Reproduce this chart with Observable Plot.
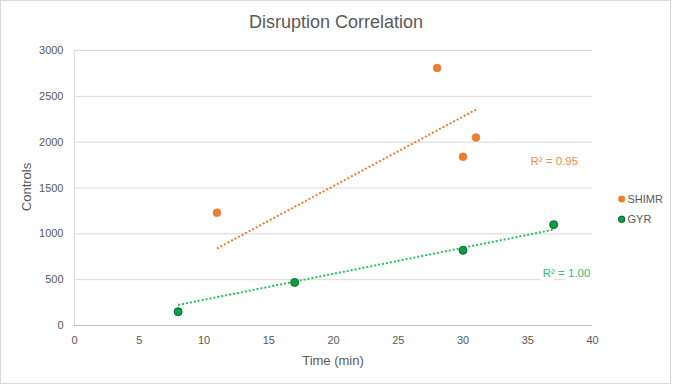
<!DOCTYPE html>
<html><head><meta charset="utf-8">
<script src="https://cdn.jsdelivr.net/npm/d3@7"></script>
<script src="https://cdn.jsdelivr.net/npm/@observablehq/plot@0.6"></script>
<style>
body{margin:0;background:#fff;font-family:"Liberation Sans",Arial,sans-serif;}
#wrap{position:relative;width:673px;height:385px;overflow:hidden;background:#fff;}
#frame{position:absolute;left:0;top:0;width:671px;height:384px;border:1px solid #d9d9d9;box-sizing:border-box;pointer-events:none;}
#chart,#overlay{position:absolute;left:0;top:0;}
</style>
</head><body>
<div id="wrap"><div id="chart"></div><svg id="overlay" width="673" height="385"></svg><div id="frame"></div></div>
<script>
// ---- data ----
const title = "Disruption Correlation";
const xLabel = "Time (min)";
const yLabel = "Controls";
const seriesNames = ["SHIMR", "GYR"];
const seriesColors = ["#ed7d31", "#0a9e45"];
const shimrTime = [11, 28, 30, 31];
const shimrControls = [1230, 2810, 1840, 2050];
const gyrTime = [8, 17, 30, 37];
const gyrControls = [150, 470, 820, 1100];
const trendShimrTime = [11, 31];
const trendShimrControls = [840, 2355];
const trendGyrTime = [8, 37];
const trendGyrControls = [224, 1046];
const r2Text = ["R² = 0.95", "R² = 1.00"];
const r2Time = [37.05, 38.0];
const r2Controls = [1793, 573];
const xTicks = [0, 5, 10, 15, 20, 25, 30, 35, 40];
const yTicks = [0, 500, 1000, 1500, 2000, 2500, 3000];

const shimr = shimrTime.map((t, i) => ({t, c: shimrControls[i]}));
const gyr = gyrTime.map((t, i) => ({t, c: gyrControls[i]}));
const trendShimr = trendShimrTime.map((t, i) => ({t, c: trendShimrControls[i]}));
const trendGyr = trendGyrTime.map((t, i) => ({t, c: trendGyrControls[i]}));
const r2 = r2Text.map((s, i) => ({s, t: r2Time[i], c: r2Controls[i], col: i === 0 ? "#f08c50" : "#33bf68"}));

const plot = Plot.plot({
  width: 673, height: 385,
  marginTop: 50, marginLeft: 74, marginRight: 81, marginBottom: 60,
  style: {fontFamily: '"Liberation Sans", Arial, sans-serif', fontSize: "11px", color: "#595959", background: "transparent"},
  x: {domain: [0, 40], ticks: xTicks, label: null},
  y: {domain: [0, 3000], ticks: yTicks, label: null},
  marks: [
    Plot.gridY(yTicks, {stroke: "#d9d9d9", strokeOpacity: 1}),
    Plot.ruleX([0], {stroke: "#d9d9d9"}),
    Plot.ruleY([0], {stroke: "#bfbfbf"}),
    Plot.axisX(xTicks, {tickSize: 0, tickPadding: 11, fill: "#595959", fontSize: 11, tickFormat: d3.format("d")}),
    Plot.axisY(yTicks, {tickSize: 0, tickPadding: 11, fill: "#595959", fontSize: 11, tickFormat: d3.format("d")}),
    Plot.text(r2, {x: "t", y: "c", text: "s", fill: "col", stroke: "white", strokeWidth: 8, fontSize: 11.5}),
    Plot.line(trendShimr, {x: "t", y: "c", stroke: "#ed7d31", strokeWidth: 2, strokeDasharray: "2 2", strokeLinecap: "butt"}),
    Plot.line(trendGyr, {x: "t", y: "c", stroke: "#22c35e", strokeWidth: 2, strokeDasharray: "2 2", strokeLinecap: "butt"}),
    Plot.dot(shimr, {x: "t", y: "c", r: 4, fill: "#ed7d31", stroke: "#ed7d31", strokeWidth: 0.5}),
    Plot.dot(gyr, {x: "t", y: "c", r: 4, fill: "#0a9e45", stroke: "#0b6b30", strokeWidth: 1})
  ]
});
document.getElementById("chart").appendChild(plot);

const ov = d3.select("#overlay").style("font-family", '"Liberation Sans", Arial, sans-serif');
ov.append("text").attr("x", 336).attr("y", 28).attr("text-anchor", "middle")
  .attr("font-size", 18).attr("fill", "#595959").text(title);
ov.append("text").attr("x", 333).attr("y", 365).attr("text-anchor", "middle")
  .attr("font-size", 13).attr("fill", "#595959").text(xLabel);
ov.append("text").attr("transform", "translate(31,187) rotate(-90)").attr("text-anchor", "middle")
  .attr("font-size", 13).attr("fill", "#595959").text(yLabel);
seriesNames.forEach((name, i) => {
  const y = 199 + i * 20.3;
  ov.append("circle").attr("cx", 621.7).attr("cy", y).attr("r", 3.3)
    .attr("fill", seriesColors[i]).attr("stroke", i === 0 ? seriesColors[i] : "#0b6b30").attr("stroke-width", i === 0 ? 0.5 : 1);
  ov.append("text").attr("x", 627.5).attr("y", y + 4).attr("font-size", 11).attr("fill", "#595959").text(name);
});
</script>
</body></html>
